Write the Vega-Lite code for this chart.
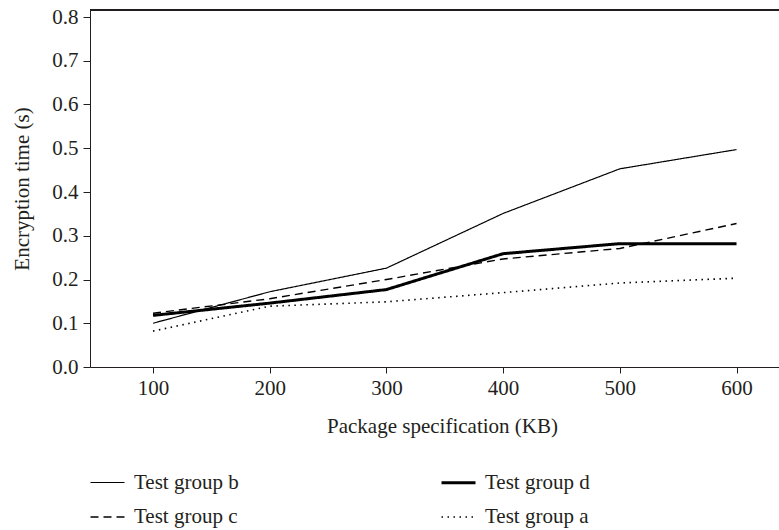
{
  "$schema": "https://vega.github.io/schema/vega-lite/v6.json",
  "autosize": {"type": "none"},
  "padding": {"left": 90, "top": 10, "right": 0, "bottom": 163},
  "width": 689,
  "height": 357,
  "background": "white",
  "config": {
    "view": {"stroke": null},
    "font": "Liberation Serif",
    "axis": {
      "labelFont": "Liberation Serif",
      "titleFont": "Liberation Serif",
      "labelFontSize": 21,
      "titleFontSize": 21,
      "labelColor": "#231f20",
      "titleColor": "#231f20",
      "titleFontWeight": "normal",
      "domainColor": "#231f20",
      "tickColor": "#231f20",
      "grid": false
    },
    "legend": {
      "labelFont": "Liberation Serif",
      "labelFontSize": 21,
      "labelColor": "#231f20"
    }
  },
  "data": {
    "values": [
      {"size": 100, "time": 0.100, "group": "Test group b"},
      {"size": 200, "time": 0.172, "group": "Test group b"},
      {"size": 300, "time": 0.226, "group": "Test group b"},
      {"size": 400, "time": 0.351, "group": "Test group b"},
      {"size": 500, "time": 0.453, "group": "Test group b"},
      {"size": 600, "time": 0.497, "group": "Test group b"},
      {"size": 100, "time": 0.123, "group": "Test group c"},
      {"size": 200, "time": 0.156, "group": "Test group c"},
      {"size": 300, "time": 0.200, "group": "Test group c"},
      {"size": 400, "time": 0.247, "group": "Test group c"},
      {"size": 500, "time": 0.271, "group": "Test group c"},
      {"size": 600, "time": 0.328, "group": "Test group c"},
      {"size": 100, "time": 0.118, "group": "Test group d"},
      {"size": 200, "time": 0.146, "group": "Test group d"},
      {"size": 300, "time": 0.177, "group": "Test group d"},
      {"size": 400, "time": 0.259, "group": "Test group d"},
      {"size": 500, "time": 0.282, "group": "Test group d"},
      {"size": 600, "time": 0.282, "group": "Test group d"},
      {"size": 100, "time": 0.082, "group": "Test group a"},
      {"size": 200, "time": 0.139, "group": "Test group a"},
      {"size": 300, "time": 0.149, "group": "Test group a"},
      {"size": 400, "time": 0.170, "group": "Test group a"},
      {"size": 500, "time": 0.192, "group": "Test group a"},
      {"size": 600, "time": 0.203, "group": "Test group a"}
    ]
  },
  "layer": [
    {
      "mark": {"type": "rule", "color": "#231f20", "strokeWidth": 1},
      "encoding": {
        "y": {"datum": 0.816, "type": "quantitative", "scale": {"domain": [0, 0.816], "nice": false, "zero": true}}
      }
    },
    {
      "mark": {"type": "line", "color": "#000000", "strokeCap": "butt"},
      "encoding": {
        "x": {
          "field": "size",
          "type": "quantitative",
          "scale": {"domain": [46, 636.4], "nice": false, "zero": false},
          "axis": {
            "title": "Package specification (KB)",
            "values": [100, 200, 300, 400, 500, 600],
            "tickSize": 6,
            "labelPadding": 4,
            "titlePadding": 17,
            "titleX": 352,
            "labelFlush": false
          }
        },
        "y": {
          "field": "time",
          "type": "quantitative",
          "scale": {"domain": [0, 0.816], "nice": false, "zero": true},
          "axis": {
            "title": "Encryption time (s)",
            "values": [0, 0.1, 0.2, 0.3, 0.4, 0.5, 0.6, 0.7, 0.8],
            "format": ".1f",
            "tickSize": 7,
            "labelPadding": 5,
            "titlePadding": 19,
            "labelFlush": false
          }
        },
        "strokeDash": {
          "field": "group",
          "type": "nominal",
          "scale": {
            "type": "ordinal",
            "domain": ["Test group b", "Test group c", "Test group d", "Test group a"],
            "range": [[1, 0], [8, 5], [1, 0], [1.5, 4.5]]
          },
          "legend": {
            "title": null,
            "orient": "none",
            "legendX": -1,
            "legendY": 454,
            "columns": 2,
            "columnPadding": 196,
            "rowPadding": 6,
            "symbolSize": 1156,
            "symbolType": "stroke",
            "symbolStrokeColor": "#000000",
            "labelOffset": 8
          }
        },
        "strokeWidth": {
          "field": "group",
          "type": "nominal",
          "scale": {
            "type": "ordinal",
            "domain": ["Test group b", "Test group c", "Test group d", "Test group a"],
            "range": [1.2, 1.4, 3, 1.6]
          },
          "legend": {
            "title": null,
            "orient": "none",
            "legendX": -1,
            "legendY": 454,
            "columns": 2,
            "columnPadding": 196,
            "rowPadding": 6,
            "symbolSize": 1156,
            "symbolType": "stroke",
            "symbolStrokeColor": "#000000",
            "labelOffset": 8
          }
        }
      }
    }
  ]
}
